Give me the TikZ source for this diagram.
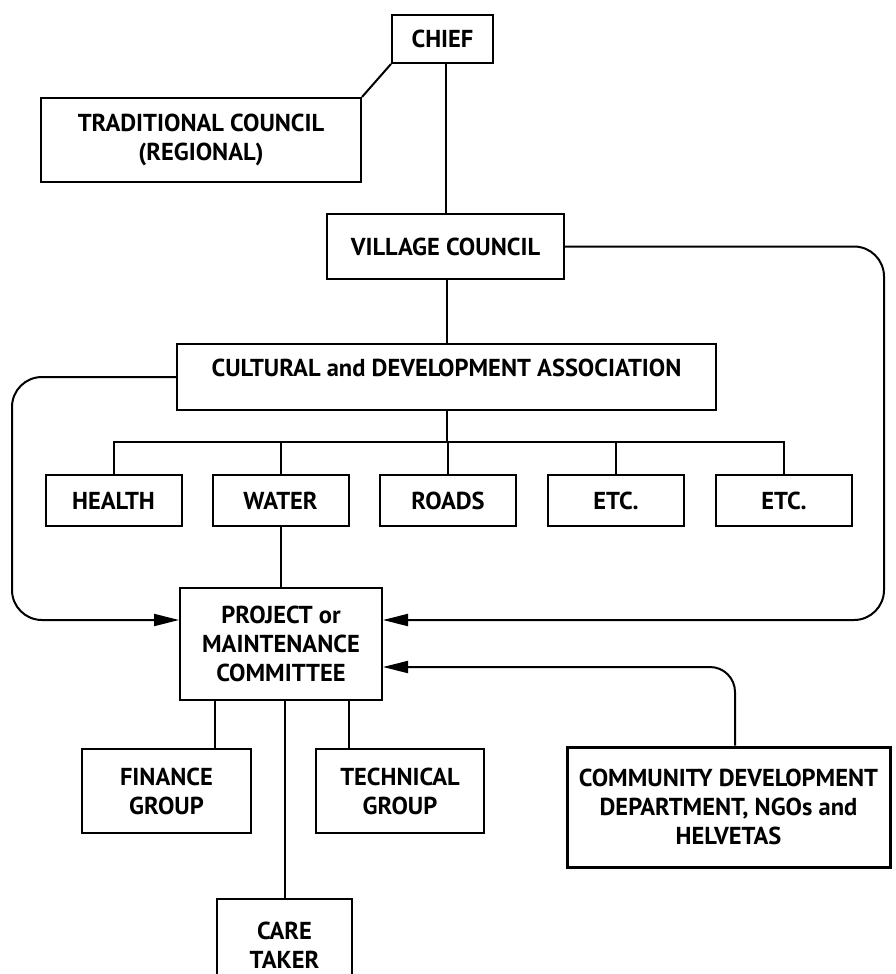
\documentclass[tikz,border=0pt]{standalone}
\usepackage{fontspec}
\newfontfamily\orgfont{PT Sans}
\usetikzlibrary{arrows.meta,calc}

\begin{document}
\begin{tikzpicture}[x=1pt,y=-1pt,line width=2pt,
          >={Triangle[length=25pt,width=12pt]},
          orgbox/.style={draw,rectangle,align=center,inner sep=2pt,
            font=\orgfont\bfseries\fontsize{24.5}{29}\selectfont},
          link/.style={rounded corners=30pt,->}]
          \clip(0,0)rectangle(896,974);
          % the chief and his councils
          \node[orgbox,minimum width=101pt,minimum height=48pt](chief)at(442.5,39){CHIEF};
          \node[orgbox,minimum width=320pt,minimum height=84pt](trad)at(201,140)
            {TRADITIONAL COUNCIL\\(REGIONAL)};
          \node[orgbox,minimum width=237pt,minimum height=65pt](village)at(445.5,246.5)
            {VILLAGE COUNCIL};
          \node[orgbox,minimum width=539pt,minimum height=66pt,text depth=18pt](cda)at(446.5,377)
            {CULTURAL and DEVELOPMENT ASSOCIATION};
          % sections
          \foreach \n/\x/\t in {health/113.5/HEALTH,water/280.5/WATER,roads/448/ROADS,
            etca/616/ETC.,etcb/784/ETC.}
            {\node[orgbox,minimum width=136pt,minimum height=51pt](\n)at(\x,500.5){\t};}
          \node[orgbox,minimum width=202pt,minimum height=112pt](project)at(281,644)
            {PROJECT or\\MAINTENANCE\\COMMITTEE};
          \node[orgbox,minimum width=169pt,minimum height=84pt](finance)at(166.5,791)
            {FINANCE\\GROUP};
          \node[orgbox,minimum width=168pt,minimum height=84pt](technical)at(400,791)
            {TECHNICAL\\GROUP};
          \node[orgbox,line width=3pt,minimum width=323pt,minimum height=120pt](cdd)at(728.5,807)
            {COMMUNITY DEVELOPMENT\\DEPARTMENT, NGOs and\\HELVETAS};
          \node[orgbox,minimum width=135pt,minimum height=92pt,anchor=north](care)at(284.5,898)
            {CARE\\TAKER};
          \coordinate(bar)at(0,442);
          \coordinate(lx)at(12,500);
          \coordinate(rx)at(884,450);
          % plain links
          \draw(chief.south west)--(trad.north east);
          \draw(village.north)--(village.north|-chief.south);
          \draw(cda.north)--(cda.north|-village.south);
          \draw(cda.south)--(cda.south|-bar);
          \draw(health.north)|-(etcb.north|-bar)--(etcb.north);
          \foreach \n in {water,roads,etca}
            {\draw(\n.north)--(\n.north|-bar);}
          \draw(water.south)--(water.south|-project.north);
          \draw([xshift=-66pt]project.south|-finance.north)--([xshift=-66pt]project.south);
          \draw([xshift=68pt]project.south|-technical.north)--([xshift=68pt]project.south);
          \draw(care.north)--(care.north|-project.south);
          % arrows into the committee
          \draw[link](cda.west)-|(lx)|-([yshift=24pt]project.west);
          \draw[link](village.east)-|(rx)|-([yshift=24pt]project.east);
          \draw[link,rounded corners=25pt]([xshift=6.5pt]cdd.north)|-([yshift=-23pt]project.east);
        \end{tikzpicture}
\end{document}
